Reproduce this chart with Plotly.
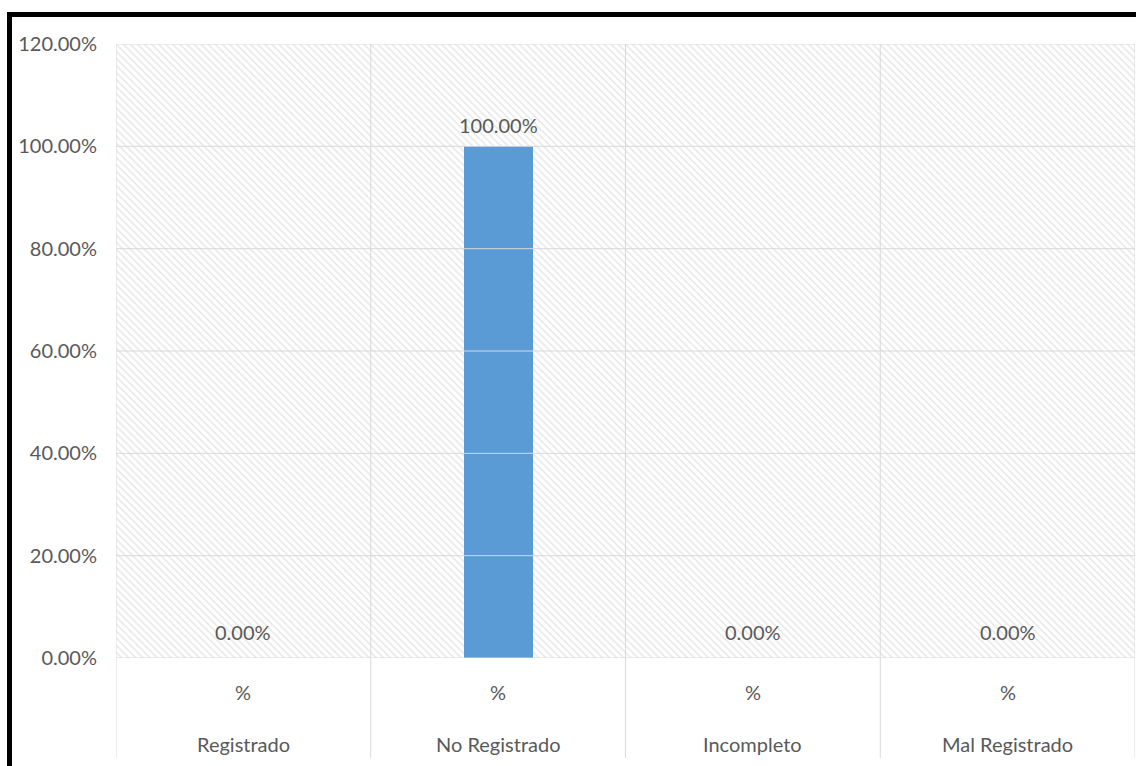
import plotly.graph_objects as go

# Category data
categories = ["Registrado", "No Registrado", "Incompleto", "Mal Registrado"]
sub_labels = ["%", "%", "%", "%"]
values = [0.0, 100.0, 0.0, 0.0]
y_ticks = [0, 20, 40, 60, 80, 100, 120]
y_tick_text = [f"{t:.2f}%" for t in y_ticks]

FONT = "Lato, Calibri, Carlito, sans-serif"
FS = 20
TEXT = "#595959"
GRID = "#d9d9d9"
BAR = "#5b9bd5"

W, H = 1136, 766
ML, MR, MT, MB = 116, 1, 44, 108
plot_h = H - MT - MB

n = len(categories)
xs = list(range(n))
ymax = y_ticks[-1]

fig = go.Figure()

# hatched plot-area background
fig.add_trace(go.Bar(
    x=[(n - 1) / 2], y=[ymax], width=[n],
    marker=dict(color="white", line=dict(width=0),
                pattern=dict(shape="\\", fgcolor="#cfcfcf", bgcolor="white",
                             size=5, solidity=0.3)),
    hoverinfo="skip", showlegend=False,
))

# horizontal gridlines (kept beneath the data bars)
for t in y_ticks:
    fig.add_trace(go.Scatter(
        x=[-0.5, n - 0.5], y=[t, t], mode="lines",
        line=dict(color=GRID, width=1), hoverinfo="skip", showlegend=False,
    ))

# data bars
fig.add_trace(go.Bar(
    x=xs, y=values, width=0.27,
    marker=dict(color=BAR, line=dict(width=0)),
    showlegend=False,
))

annotations = []
for x, v in zip(xs, values):
    annotations.append(dict(
        x=x, y=v, xref="x", yref="y", text=f"{v:.2f}%", showarrow=False,
        yanchor="middle", yshift=21 if v > 0 else 26,
        font=dict(family=FONT, size=FS, color=TEXT),
    ))
for x, sub, cat in zip(xs, sub_labels, categories):
    annotations.append(dict(
        x=x, y=0, xref="x", yref="paper", text=sub, showarrow=False,
        yanchor="middle", yshift=-34,
        font=dict(family=FONT, size=FS, color=TEXT),
    ))
    annotations.append(dict(
        x=x, y=0, xref="x", yref="paper", text=cat, showarrow=False,
        yanchor="middle", yshift=-86,
        font=dict(family=FONT, size=FS, color=TEXT),
    ))

shapes = []
# category separators running through the plot and the label area
below = -100 / plot_h
for b in [i - 0.5 for i in range(n + 1)]:
    shapes.append(dict(
        type="line", xref="x", yref="paper", x0=b, x1=b, y0=below, y1=1,
        line=dict(color=GRID, width=1), layer="above",
    ))
# outer black frame
shapes.append(dict(
    type="rect", xref="paper", yref="paper",
    x0=(9.5 - ML) / (W - ML - MR), x1=(W + 20 - ML) / (W - ML - MR),
    y0=-(MB + 20) / plot_h, y1=1 + (MT - 14.5) / plot_h,
    line=dict(color="black", width=5), fillcolor="rgba(0,0,0,0)", layer="above",
))

fig.update_layout(
    width=W, height=H,
    margin=dict(l=ML, r=MR, t=MT, b=MB),
    paper_bgcolor="white", plot_bgcolor="white",
    barmode="overlay", bargap=0,
    annotations=annotations, shapes=shapes,
    font=dict(family=FONT, size=FS, color=TEXT),
    xaxis=dict(range=[-0.5, n - 0.5], showticklabels=False, showgrid=False,
               zeroline=False, showline=False, fixedrange=True),
    yaxis=dict(range=[0, ymax], tickmode="array", tickvals=y_ticks,
               ticktext=y_tick_text, showgrid=False, zeroline=False,
               showline=False, ticklabelstandoff=18, fixedrange=True,
               tickfont=dict(family=FONT, size=FS, color=TEXT)),
)

fig.write_html("out.html")
